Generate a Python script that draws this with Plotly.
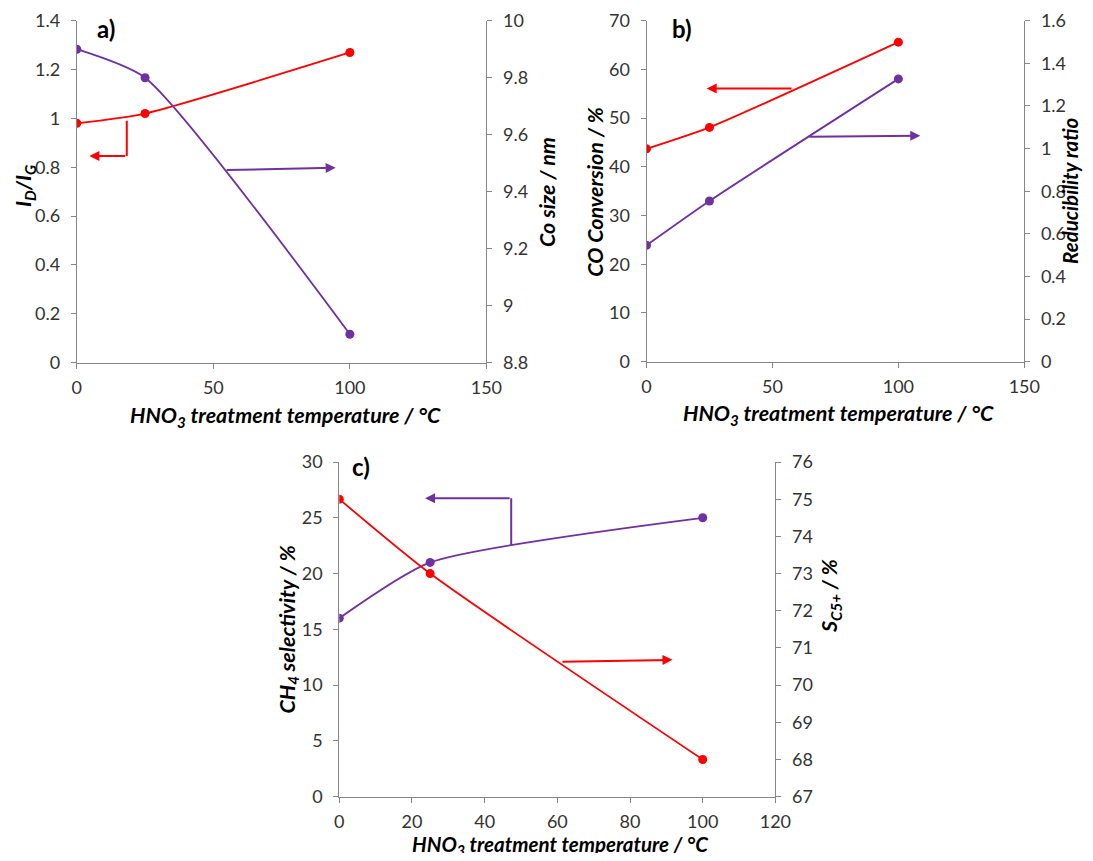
import plotly.graph_objects as go

# ---------------- data ----------------
temp = [0, 25, 100]

# panel a
id_ig = [0.98, 1.02, 1.27]
co_size = [9.90, 9.80, 8.90]

# panel b
co_conv = [43.7, 48.1, 65.6]
reducibility = [0.546, 0.754, 1.327]

# panel c
ch4_sel = [16.0, 21.0, 25.0]
s_c5 = [75.0, 73.0, 68.0]

RED = "#FF0000"
PURPLE = "#7030A0"
AXC = "#868686"
TXT = "#333333"
FONT = "Lato"
OFF = 8                      # default page body margin
W, H = 1093 - 2 * OFF, 861 - 2 * OFF

fig = go.Figure()

def tr(x, y, color, xa, ya):
    fig.add_trace(go.Scatter(
        x=x, y=y, xaxis=xa, yaxis=ya, mode="lines+markers",
        line=dict(color=color, width=1.8, shape="spline", smoothing=0.6),
        marker=dict(color=color, size=9), showlegend=False, hoverinfo="skip"))

tr(temp, id_ig, RED, "x", "y")
tr(temp, co_size, PURPLE, "x", "y2")
tr(temp, co_conv, RED, "x2", "y3")
tr(temp, reducibility, PURPLE, "x2", "y4")
tr(temp, ch4_sel, PURPLE, "x3", "y5")
tr(temp, s_c5, RED, "x3", "y6")

def fx(px):
    return (px - OFF) / W

def fy(py):
    return 1 - (py - OFF) / H

def px_dom_x(a, b):
    return [fx(a), fx(b)]

def px_dom_y(top, bottom):
    return [fy(bottom), fy(top)]

axbase = dict(showline=True, linecolor=AXC, linewidth=1, showgrid=False, zeroline=False,
              ticks="outside", ticklen=5, tickcolor=AXC, automargin=False,
              tickfont=dict(family=FONT, size=18, color=TXT))
ybase = dict(axbase, ticklabelstandoff=7)
xbase = dict(axbase, ticklabelstandoff=4)

layout = dict(
    width=W, height=H, margin=dict(l=0, r=0, t=0, b=0, pad=0, autoexpand=False),
    paper_bgcolor="white", plot_bgcolor="white", showlegend=False,
    # panel a
    xaxis=dict(xbase, domain=px_dom_x(76.8, 486.4), range=[0, 150], tickvals=[0, 50, 100, 150], anchor="y"),
    yaxis=dict(ybase, domain=px_dom_y(20.7, 362.7), range=[0, 1.4], dtick=0.2, anchor="x"),
    yaxis2=dict(ybase, domain=px_dom_y(20.7, 362.7), range=[8.8, 10], dtick=0.2, anchor="x",
                overlaying="y", side="right"),
    # panel b
    xaxis2=dict(xbase, domain=px_dom_x(646.5, 1024.3), range=[0, 150], tickvals=[0, 50, 100, 150], anchor="y3"),
    yaxis3=dict(ybase, domain=px_dom_y(20.7, 361.7), range=[0, 70], dtick=10, anchor="x2"),
    yaxis4=dict(ybase, domain=px_dom_y(20.7, 361.7), range=[0, 1.6], dtick=0.2, anchor="x2",
                overlaying="y3", side="right"),
    # panel c
    xaxis3=dict(xbase, domain=px_dom_x(339.3, 775.4), range=[0, 120], dtick=20, anchor="y5"),
    yaxis5=dict(ybase, domain=px_dom_y(462, 796.7), range=[0, 30], dtick=5, anchor="x3"),
    yaxis6=dict(ybase, domain=px_dom_y(462, 796.7), range=[67, 76], dtick=1, anchor="x3",
                overlaying="y5", side="right"),
)
fig.update_layout(**layout)

shapes = []
ann = []

def seg(xr, yr, x0, y0, x1, y1, color):
    shapes.append(dict(type="line", xref=xr, yref=yr, x0=x0, y0=y0, x1=x1, y1=y1,
                       line=dict(color=color, width=2)))

def arrow(xr, yr, x_tail, y_tail, x_head, y_head, color):
    ann.append(dict(xref=xr, yref=yr, axref=xr, ayref=yr, x=x_head, y=y_head,
                    ax=x_tail, ay=y_tail, text="", showarrow=True, arrowhead=2,
                    arrowsize=1.0, arrowwidth=2, arrowcolor=color))

# panel a arrows
seg("x", "y", 18.3, 0.99, 18.3, 0.846, RED)
arrow("x", "y", 18.3, 0.846, 4.6, 0.846, RED)
arrow("x", "y2", 54.3, 9.476, 94.8, 9.484, PURPLE)
# panel b arrows
arrow("x2", "y3", 58.2, 56.1, 23.9, 56.1, RED)
arrow("x2", "y4", 64.1, 1.056, 108.7, 1.0605, PURPLE)
# panel c arrows
seg("x3", "y5", 47.3, 22.55, 47.3, 26.74, PURPLE)
arrow("x3", "y5", 47.3, 26.74, 23.6, 26.74, PURPLE)
arrow("x3", "y6", 61.0, 70.63, 91.7, 70.68, RED)

def txt(x, y, s, size=20, angle=0):
    ann.append(dict(xref="paper", yref="paper", x=fx(x), y=fy(y), text=s,
                    showarrow=False, textangle=angle, xanchor="center", yanchor="middle",
                    font=dict(family=FONT, size=size, color="black")))

# panel labels
txt(106, 28, "<b>a)</b>", 24)
txt(682, 28, "<b>b)</b>", 24)
txt(361, 466, "<b>c)</b>", 24)

# axis titles
TS = 21.5
txt(24, 186, "<b><i>I<sub>D</sub>/I<sub>G</sub></i></b>", TS, -90)
txt(547, 192, "<b><i>Co size / nm</i></b>", TS, -90)
txt(285.7, 416, "<b><i>HNO<sub>3</sub> treatment temperature / °C</i></b>", TS)

txt(594.7, 192, "<b><i>CO Conversion / %</i></b>", TS, -90)
txt(1070, 191, "<b><i>Reducibility ratio</i></b>", 20.5, -90)
txt(838, 415, "<b><i>HNO<sub>3</sub> treatment temperature / °C</i></b>", TS)

txt(287.6, 630, "<b><i>CH<sub>4</sub> selectivity / %</i></b>", TS, -90)
txt(830, 596, "<b><i>S<sub>C5+</sub> / %</i></b>", TS, -90)
txt(560, 845, "<b><i>HNO<sub>3</sub> treatment temperature / °C</i></b>", 20.5)

fig.update_layout(shapes=shapes, annotations=ann)
fig.write_html("out.html")
